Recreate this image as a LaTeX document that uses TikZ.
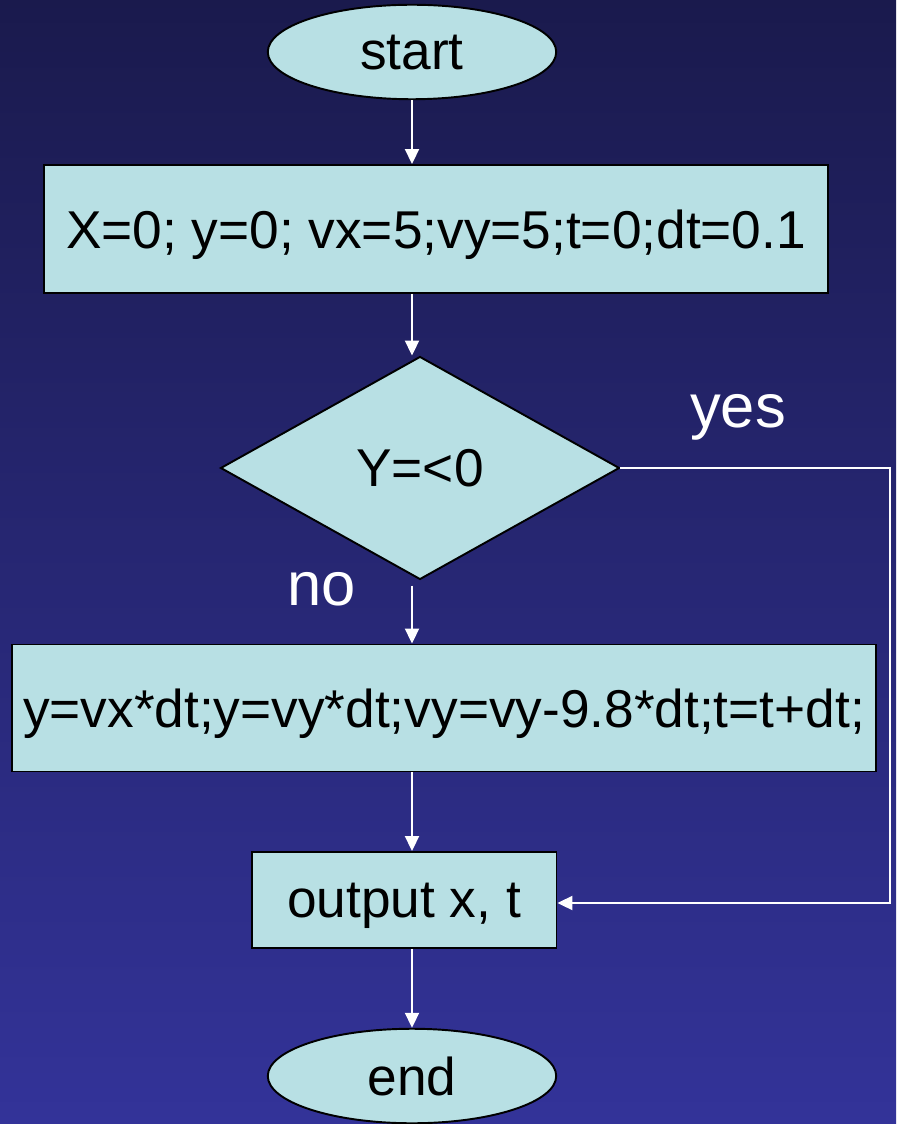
\documentclass[tikz,border=0pt]{standalone}
\usepackage{fontspec}
\setmainfont{Liberation Sans}
\usetikzlibrary{arrows.meta, shapes.geometric}
\definecolor{bgtop}{HTML}{1A1A4D}
\definecolor{bgbot}{HTML}{333399}
\definecolor{boxfill}{HTML}{B8E0E4}

\tikzset{
  term/.style={ellipse, draw=black, line width=1.1pt, fill=boxfill, inner sep=0pt,
               minimum width=5.77cm, minimum height=1.89cm, text depth=0pt,
               font=\fontsize{30.3}{35}\selectfont},
  proc/.style={rectangle, draw=black, line width=1.1pt, fill=boxfill, inner sep=0pt,
               text depth=0pt, font=\fontsize{30.3}{35}\selectfont},
  decide/.style={diamond, draw=black, line width=1.1pt, fill=boxfill, inner sep=0pt,
               aspect=1.79, minimum width=7.98cm, minimum height=4.46cm,
               text depth=0pt, font=\fontsize{30.3}{35}\selectfont},
  flow/.style={-{Triangle[length=0.3cm, width=0.28cm]}, white, line width=1.1pt},
  answer/.style={white, anchor=base, font=\fontsize{35}{40}\selectfont}
}

\begin{document}
\begin{tikzpicture}[x=0.02cm, y=-0.02cm]
% 1. 背景
\shade[top color=bgtop, bottom color=bgbot] (0,0) rectangle (896,1124);
\useasboundingbox (0,0) rectangle (896,1124);

% 2. 流程图的各个框
\node[term] (start) at (412,52) {start};
\node[proc, minimum width=15.68cm, minimum height=2.56cm] (init) at (436,229)
    {X=0; y=0; vx=5;vy=5;t=0;dt=0.1};
\node[decide] (test) at (420,468) {Y=<0};
\node[proc, minimum width=17.3cm, minimum height=2.54cm] (update) at (444,708)
    {y=vx*dt;y=vy*dt;vy=vy-9.8*dt;t=t+dt;};
\node[proc, minimum width=6.1cm, minimum height=1.92cm] (out) at (404,900) {output x, t};
\node[term] (stop) at (412,1076) {end};

% 3. 判断的标签
\node[answer] (yes) at (738,427) {yes};
\node[answer] (no) at (322,605) {no};

% 4. 连线
\coordinate (bend) at (890,468);
\coordinate (turn) at (890,903);
\draw[flow] (start.south) -- (start.south |- init.north);
\draw[flow] (start.south |- init.south) -- (start.south |- test.north);
\draw[flow] ([yshift=-3pt]start.south |- test.south) -- (start.south |- update.north);
\draw[flow] (start.south |- update.south) -- (start.south |- out.north);
\draw[flow] (start.south |- out.south) -- (stop.north);
\draw[flow] (test.east) -- (bend) -- (turn) -- (turn -| out.east);
\end{tikzpicture}
\end{document}
